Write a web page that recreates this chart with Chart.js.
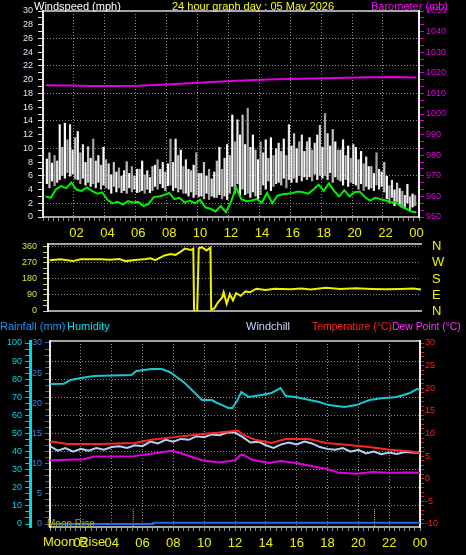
<!DOCTYPE html>
<html>
<head>
<meta charset="utf-8">
<script src="https://cdn.jsdelivr.net/npm/chart.js@4.4.1/dist/chart.umd.min.js"></script>
<style>
  body { margin: 0; background: #000; }
  #wrap { position: relative; width: 466px; height: 555px; background: #000; overflow: hidden;
          font-family: "Liberation Sans", Arial, sans-serif; }
  canvas { position: absolute; left: 0; }
  .lbl { position: absolute; font-size: 11px; line-height: 13px; white-space: nowrap; z-index: 2; }
</style>
</head>
<body>
<div id="wrap">
  <canvas id="windChart" width="466" height="240" style="top:0"></canvas>
  <canvas id="dirChart" width="466" height="80" style="top:240px"></canvas>
  <canvas id="tempChart" width="466" height="235" style="top:320px"></canvas>

  <div class="lbl" style="left:34px;top:0;color:#fff">Windspeed (mph)</div>
  <div class="lbl" style="left:172px;top:0;color:#ffff00">24 hour graph day : 05 May 2026</div>
  <div class="lbl" style="left:371px;top:0;color:#ff00ff">Barometer (mb)</div>

  <div class="lbl" style="left:0;top:320px;color:#1e90ff">Rainfall (mm)</div>
  <div class="lbl" style="left:67px;top:320px;color:#00e4f0">Humidity</div>
  <div class="lbl" style="left:246px;top:320px;color:#c0d8ff">Windchill</div>
  <div class="lbl" style="left:312px;top:320px;color:#ff2020;font-size:10.4px">Temperature (°C)</div>
  <div class="lbl" style="left:392px;top:320px;color:#ff30ff;font-size:10.4px">Dew Point (°C)</div>

  <div class="lbl" style="left:47px;top:517px;color:#b8a800;font-size:10px">Moon Rise</div>
  <div class="lbl" style="left:43px;top:535px;color:#f0f000;font-size:13px;line-height:14px">Moon Rise</div>
</div>
<script>
Chart.defaults.font.family = '"Liberation Sans", Arial, sans-serif';
Chart.defaults.animation = false;

// ---- hours axis ----
const hourTicks = [2, 4, 6, 8, 10, 12, 14, 16, 18, 20, 22, 24];
const hourLabels = ['02', '04', '06', '08', '10', '12', '14', '16', '18', '20', '22', '00'];
const hourGrid = [2, 4, 6, 8, 10, 12, 14, 16, 18, 20, 22];

// ---- wind (mph), 10 minute slots ----
const gustSlotMinutes = 10;
const windLow = [
  4.8, 4.2, 5.2, 4.5, 5.0, 5.4,   6.0, 5.6, 6.4, 5.9, 6.2, 5.5,
  5.4, 4.8, 5.6, 4.6, 5.0, 4.4,   4.8, 4.2, 5.0, 4.0, 4.6, 4.2,
  4.0, 3.4, 4.4, 3.6, 4.2, 3.5,   3.8, 3.4, 4.2, 3.6, 4.0, 3.5,
  3.6, 3.8, 3.4, 4.0, 3.5, 3.8,   4.4, 4.0, 4.8, 4.2, 3.8, 4.5,
  4.6, 3.8, 4.2, 3.6, 4.0, 3.4,   3.4, 3.0, 3.6, 2.8, 3.2, 2.9,
  3.0, 2.6, 3.4, 2.5, 3.0, 2.8,   2.8, 3.2, 2.6, 3.0, 2.5, 3.4,
  4.4, 3.4, 4.8, 3.0, 4.0, 3.2,   3.4, 2.8, 3.6, 3.0, 2.6, 3.2,
  4.6, 4.0, 5.2, 3.8, 4.4, 4.8,   5.0, 4.6, 5.6, 4.2, 5.4, 5.0,
  5.6, 5.0, 6.0, 5.2, 5.8, 5.4,   5.8, 5.2, 6.2, 5.4, 6.0, 5.6,
  6.0, 5.4, 6.4, 5.0, 5.8, 5.4,   5.2, 4.6, 5.4, 4.4, 5.0, 4.8,
  4.6, 4.0, 4.8, 3.8, 4.4, 4.0,   4.2, 3.8, 4.6, 4.0, 4.4, 3.6,
  2.6, 2.0, 2.8, 1.6, 2.2, 1.8,   1.6, 1.2, 2.0, 1.0, 1.4, 1.6
];
const windHigh = [
  8.5, 9.4, 7.9, 9.0, 8.2, 13.5,   10.2, 13.7, 11.3, 13.5, 9.8, 11.6,
  12.5, 9.4, 10.6, 8.0, 10.3, 8.6, 11.4, 8.2, 9.0, 7.6, 10.2, 8.4,
  7.8, 6.2, 8.0, 6.6, 7.2, 6.0,    6.8, 8.1, 6.4, 7.4, 6.0, 7.0,
  7.0, 8.2, 6.2, 6.8, 5.8, 7.4,    7.6, 8.4, 7.0, 8.0, 6.6, 7.8,
  11.4, 8.0, 11.4, 9.0, 9.8, 7.4,  8.4, 7.0, 6.8, 7.6, 9.4, 6.4,
  6.4, 8.0, 6.0, 7.0, 5.6, 6.6,    8.2, 10.2, 7.0, 8.6, 10.6, 9.0,
  14.9, 11.0, 14.2, 12.0, 14.9, 10.6, 15.9, 10.2, 12.0, 9.8, 8.4, 11.0,
  9.4, 11.3, 8.6, 11.6, 9.0, 10.0, 10.8, 9.6, 11.4, 9.0, 13.5, 10.4,
  12.2, 10.0, 11.0, 12.0, 9.6, 11.0, 11.6, 9.8, 10.8, 12.0, 13.4, 10.2,
  15.1, 12.2, 10.4, 12.8, 11.0, 9.8, 9.8, 11.3, 9.0, 10.4, 8.6, 10.6,
  10.2, 8.4, 9.6, 7.8, 8.8, 7.4,   7.4, 6.4, 9.4, 7.0, 6.6, 8.0,
  6.0, 4.6, 5.4, 4.0, 5.0, 4.2,    3.8, 3.2, 4.8, 3.0, 3.4, 3.2
];
// average wind, 20 minute steps
const avgStepMinutes = 20;
const windAvg = [
  3.0, 2.8, 4.0, 4.5, 4.2, 5.0, 4.0, 3.8, 4.3, 3.8, 3.4, 3.6,
  2.5, 2.0, 2.2, 1.8, 2.3, 2.1, 2.2, 1.6, 1.9, 2.9, 3.0, 3.2,
  3.5, 2.6, 2.8, 2.1, 2.4, 2.0, 2.5, 1.4, 1.2, 0.8, 1.6, 0.7,
  2.2, 4.3, 2.6, 2.3, 2.4, 2.6, 2.1, 3.5, 2.0, 3.1, 3.3, 3.4,
  3.5, 3.7, 3.6, 3.4, 4.0, 4.7, 3.8, 4.9, 3.8, 3.0, 3.9, 3.0,
  3.6, 3.7, 2.9, 2.4, 2.8, 2.6, 2.4, 2.1, 2.2, 1.5, 1.2, 0.8, 0.7
];
const windTicks = [0, 2, 4, 6, 8, 10, 12, 14, 16, 18, 20, 22, 24, 26, 28, 30];
const windGrid = [2, 6, 10, 14, 18, 22, 26, 30];

// ---- barometer (mb) ----
const baroTimes = [0, 1.5, 3, 4.5, 6, 7.5, 9, 10.5, 12, 13.5, 15, 16.5, 18, 19.5, 21, 22.5, 24];
const baroValues = [1014.0, 1013.8, 1013.6, 1013.6, 1013.7, 1014.2, 1014.8, 1015.4, 1016.0,
                    1016.5, 1016.9, 1017.1, 1017.3, 1017.6, 1017.9, 1018.0, 1017.7];
const baroTicks = [950, 960, 970, 980, 990, 1000, 1010, 1020, 1030, 1040, 1050];

// ---- wind direction (deg) ----
const dirTimes = [0.1, 0.8, 1.6, 2.1, 3.4, 4.0, 4.6, 5.0, 5.6, 6.3, 6.6, 6.9, 7.5, 7.9, 8.2,
  8.5, 8.8, 9.2, 9.35, 9.4, 9.6, 9.7, 9.9, 10.2, 10.45, 10.5, 10.7, 10.95, 11.2, 11.3,
  11.5, 11.7, 11.9, 12.1, 12.4, 12.7, 13.0, 13.4, 14.0, 14.6, 15.6, 16.3, 16.9, 17.9,
  18.8, 19.8, 20.8, 21.7, 22.7, 23.5, 24];
const dirValues = [285, 290, 280, 290, 290, 288, 292, 280, 286, 292, 296, 285, 312, 320, 315,
  330, 350, 342, 350, 0, 0, 352, 358, 340, 355, 8, 15, 50, 75, 105,
  40, 95, 60, 100, 85, 110, 105, 125, 118, 125, 122, 126, 120, 130,
  124, 128, 124, 122, 124, 126, 120];
const dirTicks = [0, 90, 180, 270, 360];
const dirLabels = ['N', 'E', 'S', 'W', 'N'];

// ---- humidity (%) ----
const humTimes = [0, 0.9, 1.34, 2.0, 2.85, 4.0, 5.27, 5.6, 6.58, 7.24, 7.76, 8.22, 8.74, 9.2,
  9.53, 9.86, 10.5, 10.8, 11.17, 11.56, 11.82, 12.1, 12.41, 12.87, 13.72, 14.37, 14.96,
  15.29, 15.94, 17.45, 18.1, 19.09, 19.87, 20.73, 21.5, 22.5, 23.35, 23.8, 24];
const humValues = [77.3, 77.5, 79.6, 80.7, 81.8, 82.0, 82.3, 84.5, 85.6, 85.6, 84.0, 81.2, 77.9, 74.0,
  71.3, 68.5, 68.5, 67.0, 65.7, 64.1, 64.1, 67.5, 72.9, 70.2, 71.3, 72.4, 75.1,
  70.7, 70.2, 67.4, 65.7, 64.6, 65.7, 68.5, 69.5, 70.2, 72.4, 74.6, 74.0];
const humTicks = [0, 10, 20, 30, 40, 50, 60, 70, 80, 90, 100];
const humGrid = [10, 20, 30, 40, 50, 60, 70, 80, 90];

// ---- temperature / windchill / dew point (°C) ----
const tempTimes = [0, 0.16, 1.15, 3.3, 5.47, 6.58, 8.09, 9.86, 11.0, 12.02, 12.2, 12.54, 13.33,
  14.37, 15.29, 16.8, 17.9, 19.2, 20.7, 22.03, 23.34, 24];
const tempValues = [8.0, 8.2, 7.7, 7.7, 7.9, 8.6, 9.2, 9.9, 10.2, 10.6, 10.6, 9.7, 8.6,
  7.9, 8.8, 8.8, 7.9, 7.5, 7.0, 6.4, 6.1, 5.7];
const chillStepMinutes = 30;
const chillValues = [7.2, 6.2, 6.8, 6.0, 6.6, 6.2, 6.8, 6.4, 7.0, 7.2, 6.8, 7.4, 7.2, 8.2, 7.8, 8.6,
  8.2, 8.8, 8.6, 9.4, 9.2, 9.8, 9.6, 10.2, 10.2, 9.2, 8.0, 8.2, 7.4, 6.8, 7.6, 8.0, 7.6,
  8.2, 7.8, 7.0, 6.6, 6.4, 6.8, 6.0, 6.4, 5.6, 6.0, 5.4, 5.8, 5.5, 5.9, 5.8, 5.7];
const dewTimes = [0, 0.16, 2.2, 2.85, 5.47, 6.58, 7.9, 8.35, 9.86, 10.97, 12.02, 12.34, 12.54,
  13.1, 14.18, 14.96, 15.95, 17.26, 17.9, 18.76, 19.87, 20.92, 22.03, 23.1, 24];
const dewValues = [4.1, 4.1, 4.3, 4.9, 5.0, 5.5, 6.2, 5.8, 4.1, 3.6, 4.1, 5.2, 5.3,
  4.2, 3.5, 3.9, 3.5, 2.6, 2.2, 1.3, 1.1, 1.5, 1.3, 1.4, 1.3];
const tempTicks = [-10, -5, 0, 5, 10, 15, 20, 25, 30];

// ---- rainfall (mm) ----
const rainTimes = [0, 6.7, 6.7, 24];
const rainValues = [0, 0, 0.2, 0.2];
const rainTicks = [0, 5, 10, 15, 20, 25, 30];

// ---- moon markers (hours) ----
const moonTimes = [5.4, 21.05];
const moonMarkHeight = 2.5;

// ---------- helpers ----------
function stepTicks(from, to, step) {
  const out = [];
  const n = Math.round((to - from) / step);
  for (let k = 0; k <= n; k++) out.push({ value: from + k * step });
  return out;
}
function near(a, b) { return Math.abs(a - b) < 1e-6; }
function labelFrom(values, labels) {
  return v => {
    const i = values.findIndex(t => near(t, v));
    return i < 0 ? '' : labels[i];
  };
}
function gridFrom(values, color) {
  return ctx => (ctx.tick && values.some(t => near(t, ctx.tick.value))) ? color : 'rgba(0,0,0,0)';
}
function fixSize(prop, size) {
  return s => {
    s[prop] = size;
    s.paddingTop = 0; s.paddingBottom = 0; s.paddingLeft = 0; s.paddingRight = 0;
  };
}
function pts(xs, ys) { return xs.map((x, i) => ({ x: x, y: ys[i] })); }

const DOT = '#8c8c8c';
const FRAME = '#a4a4a4';
const HOUR_YELLOW = '#eef000';
const base = {
  responsive: false,
  animation: false,
  events: [],
  plugins: { legend: { display: false }, tooltip: { enabled: false } },
  elements: { point: { radius: 0 }, line: { tension: 0, borderWidth: 2 } }
};
function topFrame() {
  return {
    type: 'linear', position: 'top', min: 0, max: 24,
    grid: { display: false }, ticks: { display: false },
    border: { color: FRAME, width: 2 },
    afterFit: fixSize('height', 0)
  };
}
function hourAxis(height, showLabels, showGrid) {
  return {
    type: 'linear', position: 'bottom', min: 0, max: 24,
    afterBuildTicks: s => { s.ticks = stepTicks(0, 24, 1 / 3); },
    afterFit: fixSize('height', height),
    ticks: {
      display: showLabels, autoSkip: false, maxRotation: 0, padding: 5,
      color: HOUR_YELLOW, font: { size: 13 },
      callback: labelFrom(hourTicks, hourLabels)
    },
    grid: {
      display: showGrid,
      color: gridFrom(hourGrid, DOT), tickColor: '#8a8a8a', tickLength: 4, lineWidth: 1
    },
    border: { color: FRAME, width: 2, dash: [1, 2] }
  };
}

// ---------- panel 1 : wind + barometer ----------
const gustTimes = windLow.map((_, i) => (i * gustSlotMinutes + gustSlotMinutes / 2) / 60);
const avgTimes = windAvg.map((_, i) => i * avgStepMinutes / 60);
const gustShades = ['#f6f6f6', '#c4c4c4', '#ffffff', '#a6a6a6', '#e4e4e4'];

new Chart(document.getElementById('windChart'), {
  type: 'line',
  data: {
    datasets: [
      { label: 'Average', data: pts(avgTimes, windAvg), borderColor: '#00f000', borderWidth: 2,
        order: 1, yAxisID: 'y' },
      { label: 'Barometer', data: pts(baroTimes, baroValues), borderColor: '#e000e0', borderWidth: 2,
        order: 2, yAxisID: 'yBaro' },
      { type: 'bar', label: 'Gust', yAxisID: 'y', order: 3,
        data: gustTimes.map((t, i) => ({ x: t, y: [windLow[i], windHigh[i]] })),
        backgroundColor: c => gustShades[c.dataIndex % gustShades.length],
        borderWidth: 0, barPercentage: 0.85, categoryPercentage: 1 }
    ]
  },
  options: Object.assign({}, base, {
    layout: { padding: { top: 11, left: 0, right: 0, bottom: 0 } },
    scales: {
      x: hourAxis(23, true, true),
      xTop: topFrame(),
      y: {
        position: 'left', min: 0, max: 30,
        afterBuildTicks: s => { s.ticks = stepTicks(0, 30, 1); },
        afterFit: fixSize('width', 43),
        ticks: { autoSkip: false, padding: 5, color: '#d8e4ff', font: { size: 9 },
                 callback: labelFrom(windTicks, windTicks.map(String)) },
        grid: { color: gridFrom(windGrid, DOT), tickColor: '#e0e0e0', tickLength: 5 },
        border: { color: '#e8e8e8', width: 2, dash: [1, 2] }
      },
      yBaro: {
        position: 'right', min: 950, max: 1050,
        afterBuildTicks: s => { s.ticks = stepTicks(950, 1050, 10 / 3); },
        afterFit: fixSize('width', 47),
        ticks: { autoSkip: false, padding: 2, color: '#e000e0', font: { size: 9 },
                 callback: labelFrom(baroTicks, baroTicks.map(String)) },
        grid: { drawOnChartArea: false, color: '#d000d0', tickColor: '#d000d0', tickLength: 5 },
        border: { color: '#f0f0f0', width: 2 }
      }
    }
  })
});

// ---------- panel 2 : wind direction ----------
new Chart(document.getElementById('dirChart'), {
  type: 'line',
  data: {
    datasets: [
      { label: 'Direction', data: pts(dirTimes, dirValues), borderColor: '#f0f000', borderWidth: 2 }
    ]
  },
  options: Object.assign({}, base, {
    layout: { padding: { top: 4, left: 0, right: 0, bottom: 0 } },
    scales: {
      x: {
        type: 'linear', position: 'bottom', min: 0, max: 24,
        ticks: { display: false }, grid: { display: false },
        afterFit: fixSize('height', 9),
        border: { color: FRAME, width: 2 }
      },
      xTop: topFrame(),
      y: {
        position: 'left', min: 0, max: 376,
        afterBuildTicks: s => { s.ticks = stepTicks(0, 360, 30); },
        afterFit: fixSize('width', 48),
        ticks: { autoSkip: false, padding: 6, color: '#d4e440', font: { size: 9 },
                 callback: labelFrom(dirTicks, dirTicks.map(String)) },
        grid: { color: gridFrom([90, 180, 270, 360], DOT), tickColor: '#c8d840', tickLength: 5 },
        border: { color: '#e8e8e8', width: 2, dash: [1, 2] }
      },
      yDir: {
        position: 'right', min: 0, max: 376,
        afterBuildTicks: s => { s.ticks = dirTicks.map(v => ({ value: v })); },
        afterFit: fixSize('width', 45),
        ticks: { autoSkip: false, padding: 11, color: '#f0f000', font: { size: 13 },
                 callback: labelFrom(dirTicks, dirLabels) },
        grid: { display: false, drawTicks: false },
        border: { display: false }
      }
    }
  })
});

// ---------- panel 3 : humidity, temperatures, rain ----------
const chillTimes = chillValues.map((_, i) => i * chillStepMinutes / 60);
const moonPoints = moonTimes.flatMap(t => [{ x: t, y: -0.3 }, { x: t, y: moonMarkHeight }, { x: t, y: null }]);

new Chart(document.getElementById('tempChart'), {
  type: 'line',
  data: {
    datasets: [
      { label: 'Rainfall', data: pts(rainTimes, rainValues), borderColor: '#1e6ee0', borderWidth: 2,
        yAxisID: 'yRain', order: 0 },
      { label: 'Temperature', data: pts(tempTimes, tempValues), borderColor: '#ff2424', borderWidth: 2,
        yAxisID: 'yTemp', order: 1 },
      { label: 'Windchill', data: pts(chillTimes, chillValues), borderColor: '#b4d0f4', borderWidth: 2,
        yAxisID: 'yTemp', order: 2 },
      { label: 'Dew Point', data: pts(dewTimes, dewValues), borderColor: '#e000e0', borderWidth: 2,
        yAxisID: 'yTemp', order: 3 },
      { label: 'Humidity', data: pts(humTimes, humValues), borderColor: '#18c8d0', borderWidth: 2,
        yAxisID: 'yHum', order: 4 },
      { label: 'Moon', data: moonPoints, borderColor: '#e8e000', borderWidth: 1, borderDash: [1, 1],
        spanGaps: false, yAxisID: 'yRain', order: 5 }
    ]
  },
  options: Object.assign({}, base, {
    layout: { padding: { top: 21, left: 0, right: 0, bottom: 0 } },
    scales: {
      x: hourAxis(28, true, true),
      xTop: topFrame(),
      yHum: {
        position: 'left', weight: 2, min: -1.657, max: 101.105,
        afterBuildTicks: s => { s.ticks = stepTicks(0, 100, 10 / 3); },
        afterFit: fixSize('width', 30),
        ticks: { autoSkip: false, padding: 3, color: '#00d8e8', font: { size: 9 },
                 callback: labelFrom(humTicks, humTicks.map(String)) },
        grid: { color: gridFrom(humGrid, DOT), tickColor: '#00c8d8', tickLength: 5 },
        border: { color: '#00d8e0', width: 3, dash: [1, 2] }
      },
      yRain: {
        position: 'left', weight: 1, min: -0.497, max: 30.331,
        afterBuildTicks: s => { s.ticks = stepTicks(0, 30, 1); },
        afterFit: fixSize('width', 20),
        ticks: { autoSkip: false, padding: 3, color: '#2e86f0', font: { size: 9 },
                 callback: labelFrom(rainTicks, rainTicks.map(String)) },
        grid: { drawOnChartArea: false, color: '#1e70d8', tickColor: '#1e70d8', tickLength: 5 },
        border: { color: '#e8e8e8', width: 2 }
      },
      yTemp: {
        position: 'right', min: -10.663, max: 30.442,
        afterBuildTicks: s => { s.ticks = stepTicks(-10, 30, 1); },
        afterFit: fixSize('width', 46),
        ticks: { autoSkip: false, padding: 1, color: '#ff2020', font: { size: 9 },
                 callback: labelFrom(tempTicks, tempTicks.map(String)) },
        grid: { drawOnChartArea: false, color: '#e01818', tickColor: '#e01818', tickLength: 4 },
        border: { color: '#f0f0f0', width: 2 }
      }
    }
  })
});
</script>
</body>
</html>
